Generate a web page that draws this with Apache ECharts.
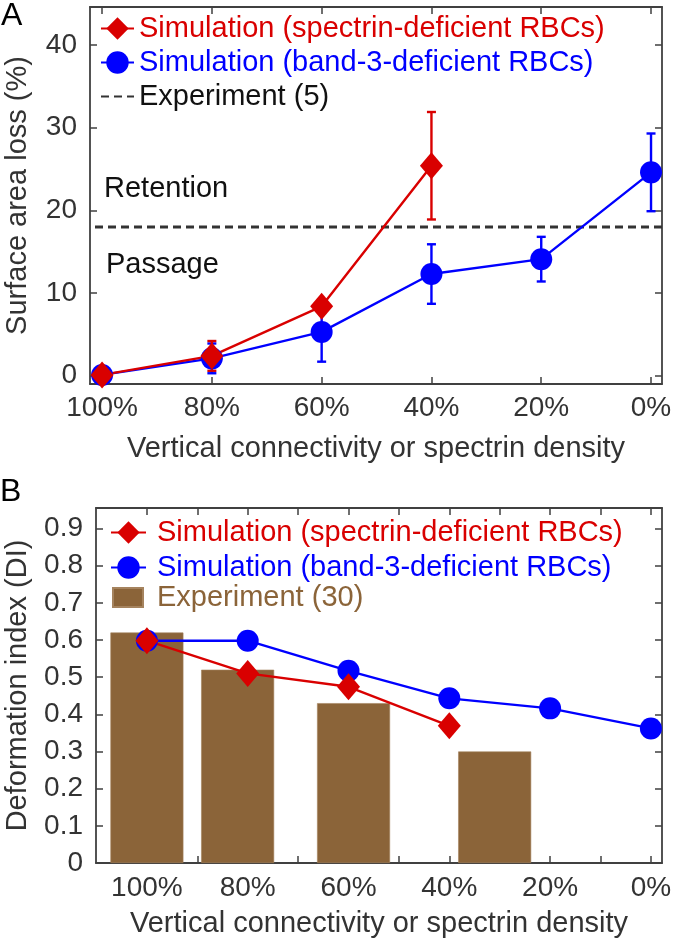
<!DOCTYPE html>
<html><head><meta charset="utf-8">
<script src="https://cdn.jsdelivr.net/npm/echarts@6/dist/echarts.min.js"></script>
<style>html,body{margin:0;padding:0;background:#fff}#c{width:677px;height:939px}</style>
</head><body><div id="c"></div>
<script>
// ---------- shared ----------
const xLevels = [100, 80, 60, 40, 20, 0];
const xMinorLevels = [100, 90, 80, 70, 60, 50, 40, 30, 20, 10, 0];
const xAxisTitle = 'Vertical connectivity or spectrin density';
const nameSpectrin = 'Simulation (spectrin-deficient RBCs)';
const nameBand3 = 'Simulation (band-3-deficient RBCs)';

// ---------- panel A: surface area loss (%) ----------
const lossTicks = [0, 10, 20, 30, 40];
const lossSpectrinX = [100, 80, 60, 40];
const lossSpectrin = [0.1, 2.4, 8.4, 25.4];
const lossSpectrinErr = [0.2, 1.8, 0.8, 6.5];
const lossBand3X = [100, 80, 60, 40, 20, 0];
const lossBand3 = [0.1, 2.1, 5.3, 12.3, 14.1, 24.6];
const lossBand3Err = [0.2, 1.8, 3.6, 3.6, 2.7, 4.7];
const experimentThreshold = 18;
const nameExpA = 'Experiment (5)';

// ---------- panel B: deformation index ----------
const diTicks = [0, 0.1, 0.2, 0.3, 0.4, 0.5, 0.6, 0.7, 0.8, 0.9];
const diSpectrinX = [100, 80, 60, 40];
const diSpectrin = [0.598, 0.51, 0.474, 0.369];
const diBand3X = [100, 80, 60, 40, 20, 0];
const diBand3 = [0.598, 0.598, 0.517, 0.443, 0.416, 0.362];
const diExpX = [100, 82, 59, 31];
const diExp = [0.62, 0.52, 0.43, 0.30];
const nameExpB = 'Experiment (30)';

const RED = '#d90000', BLUE = '#0000ff', BROWN = '#8b6439', AX = '#404040', TXT = '#333333';
const FONT = '"Liberation Sans", Arial, Helvetica, sans-serif';
const FS = 29, FT = 28;

// axis ranges (view extents)
const xMinA = -2, xMaxA = 102.2, yMinA = -1, yMaxA = 44.6;
const xMinB = -2.2, xMaxB = 110.1, yMinB = 0, yMaxB = 0.955;

function pairs(xs, ys) { return xs.map((x, i) => [x, ys[i]]); }

function errorBars(id, xs, ys, errs, color, xi, yi) {
  return {
    type: 'custom', id: id, name: id, xAxisIndex: xi, yAxisIndex: yi, clip: false,
    data: xs.map((x, i) => [x, ys[i] - errs[i], ys[i] + errs[i]]),
    renderItem: function (params, api) {
      const lo = api.coord([api.value(0), api.value(1)]);
      const hi = api.coord([api.value(0), api.value(2)]);
      const w = 4.5, st = { stroke: color, lineWidth: 2.4 };
      return { type: 'group', children: [
        { type: 'line', shape: { x1: lo[0], y1: lo[1], x2: hi[0], y2: hi[1] }, style: st },
        { type: 'line', shape: { x1: lo[0] - w, y1: lo[1], x2: lo[0] + w, y2: lo[1] }, style: st },
        { type: 'line', shape: { x1: hi[0] - w, y1: hi[1], x2: hi[0] + w, y2: hi[1] }, style: st }
      ]};
    }
  };
}

function boxAxis(base) {
  return Object.assign({
    type: 'value', splitLine: { show: false },
    axisLine: { show: true, onZero: false, lineStyle: { color: AX, width: 1.8 } },
    axisTick: { show: true, inside: true, length: 7, lineStyle: { color: AX, width: 1.5 } },
    axisLabel: { show: false }
  }, base);
}

const labelStyle = { fontSize: FT, color: TXT, fontFamily: FONT };
const nameStyle = { fontSize: FS, color: TXT, fontFamily: FONT };

const option = {
  backgroundColor: '#fff',
  animation: false,
  textStyle: { fontFamily: FONT },
  grid: [
    { left: 90, top: 7, right: 15, height: 377, containLabel: false, outerBoundsMode: 'none' },
    { left: 96, top: 508, right: 15, height: 355, containLabel: false, outerBoundsMode: 'none' }
  ],
  xAxis: [
    boxAxis({ gridIndex: 0, position: 'bottom', inverse: true, min: xMinA, max: xMaxA,
      axisTick: { show: true, inside: true, length: 7, customValues: xLevels, lineStyle: { color: AX, width: 1.5 } },
      axisLabel: Object.assign({ show: true, customValues: xLevels, margin: 10, formatter: v => v + '%' }, labelStyle),
      name: xAxisTitle, nameLocation: 'middle', nameGap: 50, nameTextStyle: nameStyle }),
    boxAxis({ gridIndex: 0, position: 'top', inverse: true, min: xMinA, max: xMaxA,
      axisTick: { show: true, inside: true, length: 7, customValues: xLevels, lineStyle: { color: AX, width: 1.5 } } }),
    boxAxis({ gridIndex: 1, position: 'bottom', inverse: true, min: xMinB, max: xMaxB,
      axisTick: { show: true, inside: true, length: 7, customValues: xMinorLevels, lineStyle: { color: AX, width: 1.5 } },
      axisLabel: Object.assign({ show: true, customValues: xLevels, margin: 11, formatter: v => v + '%' }, labelStyle),
      name: xAxisTitle, nameLocation: 'middle', nameGap: 46, nameTextStyle: nameStyle }),
    boxAxis({ gridIndex: 1, position: 'top', inverse: true, min: xMinB, max: xMaxB,
      axisTick: { show: true, inside: true, length: 7, customValues: xMinorLevels, lineStyle: { color: AX, width: 1.5 } } })
  ],
  yAxis: [
    boxAxis({ gridIndex: 0, position: 'left', min: yMinA, max: yMaxA,
      axisTick: { show: true, inside: true, length: 7, customValues: lossTicks, lineStyle: { color: AX, width: 1.5 } },
      axisLabel: Object.assign({ show: true, customValues: lossTicks, margin: 13 }, labelStyle),
      name: 'Surface area loss (%)', nameLocation: 'middle', nameGap: 58, nameRotate: 90, nameTextStyle: nameStyle }),
    boxAxis({ gridIndex: 0, position: 'right', min: yMinA, max: yMaxA,
      axisTick: { show: true, inside: true, length: 7, customValues: lossTicks, lineStyle: { color: AX, width: 1.5 } } }),
    boxAxis({ gridIndex: 1, position: 'left', min: yMinB, max: yMaxB,
      axisTick: { show: true, inside: true, length: 7, customValues: diTicks, lineStyle: { color: AX, width: 1.5 } },
      axisLabel: Object.assign({ show: true, customValues: diTicks, margin: 13, formatter: v => v === 0 ? '0' : v.toFixed(1) }, labelStyle),
      name: 'Deformation index (DI)', nameLocation: 'middle', nameGap: 64, nameRotate: 90, nameTextStyle: nameStyle }),
    boxAxis({ gridIndex: 1, position: 'right', min: yMinB, max: yMaxB,
      axisTick: { show: true, inside: true, length: 7, customValues: diTicks, lineStyle: { color: AX, width: 1.5 } } })
  ],
  legend: [
    { left: 100, top: 14, padding: 0, orient: 'vertical', itemWidth: 33, itemHeight: 28, itemGap: 5,
      textStyle: { fontSize: FS, fontFamily: FONT },
      data: [
        { name: nameSpectrin, textStyle: { color: RED } },
        { name: nameBand3, textStyle: { color: BLUE } },
        { name: nameExpA, textStyle: { color: '#111' }, itemStyle: { color: 'rgba(0,0,0,0)', borderColor: 'rgba(0,0,0,0)' } }
      ] },
    { left: 110, top: 518, padding: 0, orient: 'vertical', itemWidth: 35, itemHeight: 28, itemGap: 6,
      textStyle: { fontSize: FS, fontFamily: FONT, padding: [0, 0, 0, 6] },
      data: [
        { name: nameSpectrin, textStyle: { color: RED } },
        { name: nameBand3, textStyle: { color: BLUE } }
      ] },
    { left: 112, top: 583, padding: 0, orient: 'vertical', itemWidth: 30, itemHeight: 19,
      textStyle: { fontSize: FS, fontFamily: FONT, padding: [0, 0, 0, 9] },
      data: [ { name: nameExpB, icon: 'rect', textStyle: { color: BROWN } } ] }
  ],
  graphic: [
    { type: 'text', left: 1, top: 0, style: { text: 'A', fontSize: 32, fill: '#000', fontFamily: FONT } },
    { type: 'text', left: 0, top: 476, style: { text: 'B', fontSize: 32, fill: '#000', fontFamily: FONT } },
    { type: 'text', x: 104, y: 189, style: { text: 'Retention', fontSize: FS, fill: '#111', fontFamily: FONT, verticalAlign: 'middle' } },
    { type: 'text', x: 106, y: 265, style: { text: 'Passage', fontSize: FS, fill: '#111', fontFamily: FONT, verticalAlign: 'middle' } }
  ],
  series: [
    // ---- panel A ----
    { type: 'line', name: nameExpA, xAxisIndex: 0, yAxisIndex: 0, symbol: 'none', silent: true,
      data: [[xMinA, experimentThreshold], [xMaxA, experimentThreshold]],
      lineStyle: { color: '#333', width: 3, type: [8, 5] }, itemStyle: { color: '#333' }, z: 1 },
    errorBars('errBand3A', lossBand3X, lossBand3, lossBand3Err, BLUE, 0, 0),
    { type: 'line', name: nameBand3, xAxisIndex: 0, yAxisIndex: 0, clip: false,
      data: pairs(lossBand3X, lossBand3), symbol: 'circle', symbolSize: 22,
      lineStyle: { color: BLUE, width: 2.4 }, itemStyle: { color: BLUE } },
    errorBars('errSpectrinA', lossSpectrinX, lossSpectrin, lossSpectrinErr, RED, 0, 0),
    { type: 'line', name: nameSpectrin, xAxisIndex: 0, yAxisIndex: 0, clip: false,
      data: pairs(lossSpectrinX, lossSpectrin), symbol: 'diamond', symbolSize: [23, 27],
      lineStyle: { color: RED, width: 2.4 }, itemStyle: { color: RED } },
    // ---- panel B ----
    { type: 'bar', name: nameExpB, xAxisIndex: 2, yAxisIndex: 2, barWidth: 73,
      data: pairs(diExpX, diExp), itemStyle: { color: BROWN, borderColor: '#a5835e', borderWidth: 0.6 } },
    { type: 'line', name: nameBand3, xAxisIndex: 2, yAxisIndex: 2, clip: false,
      data: pairs(diBand3X, diBand3), symbol: 'circle', symbolSize: 22,
      lineStyle: { color: BLUE, width: 2.4 }, itemStyle: { color: BLUE } },
    { type: 'line', name: nameSpectrin, xAxisIndex: 2, yAxisIndex: 2, clip: false,
      data: pairs(diSpectrinX, diSpectrin), symbol: 'diamond', symbolSize: [23, 27],
      lineStyle: { color: RED, width: 2.4 }, itemStyle: { color: RED } }
  ]
};

const chart = echarts.init(document.getElementById('c'), null, { renderer: 'canvas' });
chart.setOption(option);
</script>
</body></html>
